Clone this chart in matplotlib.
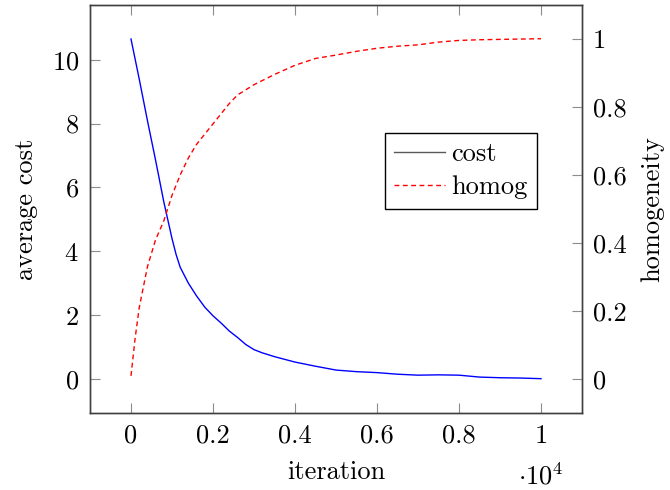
import matplotlib
matplotlib.use("Agg")
import matplotlib.pyplot as plt
from matplotlib.lines import Line2D
from matplotlib.ticker import FuncFormatter

plt.rcParams["font.family"] = "cmr10"
plt.rcParams["mathtext.fontset"] = "cm"
plt.rcParams["axes.formatter.use_mathtext"] = True
plt.rcParams["font.size"] = 19

# cost curve
cost_iter = [0, 200, 400, 600, 800, 1000, 1100, 1200, 1400, 1600, 1800, 2000,
             2200, 2400, 2600, 2800, 3000, 3200, 3500, 4000, 4500, 5000, 5500,
             6000, 6500, 7000, 7500, 8000, 8500, 9000, 9500, 10000]
cost = [10.65, 9.4, 8.1, 6.85, 5.55, 4.4, 3.9, 3.5, 3.0, 2.6, 2.25, 1.98,
        1.75, 1.5, 1.3, 1.08, 0.92, 0.82, 0.7, 0.53, 0.4, 0.28, 0.23,
        0.2, 0.15, 0.12, 0.13, 0.12, 0.06, 0.04, 0.03, 0.01]

# homogeneity curve
homog_iter = [0, 100, 200, 300, 400, 500, 600, 800, 1000, 1200, 1400, 1600,
              1800, 2000, 2200, 2400, 2600, 2800, 3000, 3500, 4000, 4500,
              5000, 5500, 6000, 6500, 7000, 7500, 8000, 8500, 9000, 10000]
homog = [0.01, 0.12, 0.21, 0.27, 0.33, 0.37, 0.41, 0.465, 0.54, 0.6, 0.65, 0.69,
         0.72, 0.75, 0.78, 0.81, 0.835, 0.85, 0.865, 0.895, 0.922, 0.942,
         0.952, 0.963, 0.972, 0.978, 0.982, 0.99, 0.995, 0.997, 0.998, 1.0]

xticks = [0, 2000, 4000, 6000, 8000, 10000]

fig = plt.figure(figsize=(6.7, 4.9), dpi=100)
ax = fig.add_axes([90 / 670, 1 - 413 / 490, 492 / 670, 408 / 490])
ax2 = ax.twinx()

ax.plot(cost_iter, cost, color="blue", lw=1)
ax2.plot(homog_iter, homog, color="red", lw=1, linestyle=(0, (3.5, 2.5)))

ax.set_xlim(-1000, 11000)
ax.set_ylim(-1.065, 11.715)
ax2.set_ylim(-0.099, 1.099)

ax.set_xticks(xticks)
ax.xaxis.set_major_formatter(FuncFormatter(lambda v, p: "%g" % (v / 1e4)))
ax.set_yticks([0, 2, 4, 6, 8, 10])
ax2.set_yticks([0, 0.2, 0.4, 0.6, 0.8, 1])
ax2.yaxis.set_major_formatter(FuncFormatter(lambda v, p: "%g" % v))

for a in (ax, ax2):
    for s in a.spines.values():
        s.set_color("0.25")
        s.set_linewidth(1)
ax.tick_params(direction="in", length=7, width=0.8, color="0.55",
               top=True, right=False, pad=8)
ax2.tick_params(direction="in", length=7, width=0.8, color="0.55", pad=8)

ax.set_xlabel("iteration", labelpad=9)
ax.set_ylabel("average cost", labelpad=10)
ax2.set_ylabel("homogeneity", labelpad=10)
fig.text(541 / 670, 6 / 490, r"$\cdot 10^{4}$", ha="center",
         va="baseline", fontsize=19)

handles = [Line2D([], [], color="0.35", lw=1),
           Line2D([], [], color="red", lw=1, linestyle=(0, (3.5, 2.5)))]
leg = ax2.legend(handles, ["cost", "homog"], loc="upper left",
                 bbox_to_anchor=(0.6, 0.686), borderaxespad=0,
                 fancybox=False, framealpha=1, edgecolor="black",
                 handlelength=1.9, handletextpad=0.25, labelspacing=0.36,
                 borderpad=0.35)
leg.get_frame().set_linewidth(1)

fig.savefig("out.png", dpi=100)
